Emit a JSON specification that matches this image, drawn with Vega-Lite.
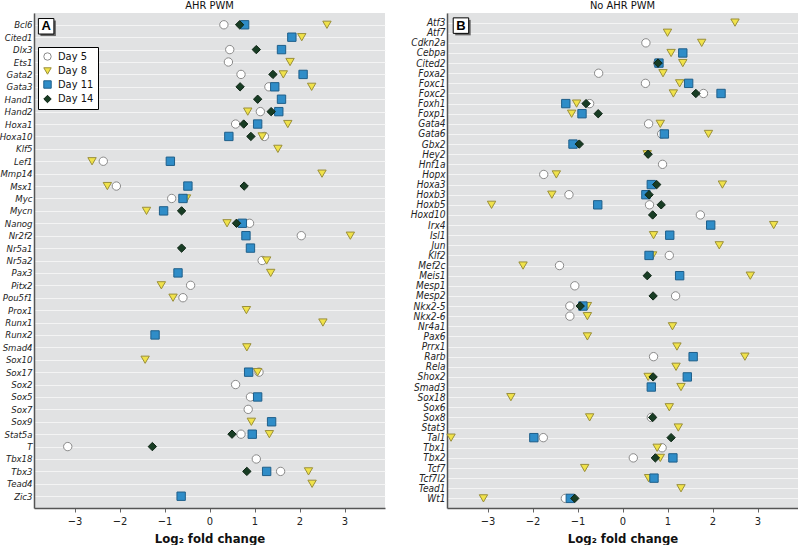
{
  "$schema": "https://vega.github.io/schema/vega-lite/v6.json",
  "padding": {"left": -1, "top": 0, "right": 0, "bottom": 0},
  "background": "#ffffff",
  "spacing": 25,
  "datasets": {
    "a": [
      {"g":"Bcl6","d":"Day 5","v":0.32},{"g":"Bcl6","d":"Day 8","v":2.61},{"g":"Bcl6","d":"Day 11","v":0.78},{"g":"Bcl6","d":"Day 14","v":0.67},
      {"g":"Cited1","d":"Day 8","v":2.05},{"g":"Cited1","d":"Day 11","v":1.83},
      {"g":"Dlx3","d":"Day 5","v":0.45},{"g":"Dlx3","d":"Day 11","v":1.60},{"g":"Dlx3","d":"Day 14","v":1.04},
      {"g":"Ets1","d":"Day 5","v":0.42},{"g":"Ets1","d":"Day 8","v":1.79},
      {"g":"Gata2","d":"Day 5","v":0.70},{"g":"Gata2","d":"Day 8","v":1.64},{"g":"Gata2","d":"Day 11","v":2.08},{"g":"Gata2","d":"Day 14","v":1.41},
      {"g":"Gata3","d":"Day 5","v":1.32},{"g":"Gata3","d":"Day 8","v":2.27},{"g":"Gata3","d":"Day 11","v":1.45},{"g":"Gata3","d":"Day 14","v":0.68},
      {"g":"Hand1","d":"Day 11","v":1.60},{"g":"Hand1","d":"Day 14","v":1.07},
      {"g":"Hand2","d":"Day 5","v":1.13},{"g":"Hand2","d":"Day 8","v":0.85},{"g":"Hand2","d":"Day 11","v":1.54},{"g":"Hand2","d":"Day 14","v":1.37},
      {"g":"Hoxa1","d":"Day 5","v":0.58},{"g":"Hoxa1","d":"Day 8","v":1.74},{"g":"Hoxa1","d":"Day 11","v":1.07},{"g":"Hoxa1","d":"Day 14","v":0.76},
      {"g":"Hoxa10","d":"Day 5","v":1.22},{"g":"Hoxa10","d":"Day 8","v":1.17},{"g":"Hoxa10","d":"Day 11","v":0.43},{"g":"Hoxa10","d":"Day 14","v":0.92},
      {"g":"Klf5","d":"Day 8","v":1.52},
      {"g":"Lef1","d":"Day 5","v":-2.36},{"g":"Lef1","d":"Day 8","v":-2.61},{"g":"Lef1","d":"Day 11","v":-0.87},
      {"g":"Mmp14","d":"Day 8","v":2.50},
      {"g":"Msx1","d":"Day 5","v":-2.07},{"g":"Msx1","d":"Day 8","v":-2.27},{"g":"Msx1","d":"Day 11","v":-0.48},{"g":"Msx1","d":"Day 14","v":0.77},
      {"g":"Myc","d":"Day 5","v":-0.84},{"g":"Myc","d":"Day 8","v":-0.51},{"g":"Myc","d":"Day 11","v":-0.59},
      {"g":"Mycn","d":"Day 8","v":-1.40},{"g":"Mycn","d":"Day 11","v":-1.02},{"g":"Mycn","d":"Day 14","v":-0.62},
      {"g":"Nanog","d":"Day 5","v":0.89},{"g":"Nanog","d":"Day 8","v":0.39},{"g":"Nanog","d":"Day 11","v":0.73},{"g":"Nanog","d":"Day 14","v":0.60},
      {"g":"Nr2f2","d":"Day 5","v":2.04},{"g":"Nr2f2","d":"Day 8","v":3.13},{"g":"Nr2f2","d":"Day 11","v":0.81},
      {"g":"Nr5a1","d":"Day 11","v":0.91},{"g":"Nr5a1","d":"Day 14","v":-0.62},
      {"g":"Nr5a2","d":"Day 5","v":1.17},{"g":"Nr5a2","d":"Day 8","v":1.27},
      {"g":"Pax3","d":"Day 8","v":1.36},{"g":"Pax3","d":"Day 11","v":-0.70},
      {"g":"Pitx2","d":"Day 5","v":-0.42},{"g":"Pitx2","d":"Day 8","v":-1.07},
      {"g":"Pou5f1","d":"Day 5","v":-0.59},{"g":"Pou5f1","d":"Day 8","v":-0.81},
      {"g":"Prox1","d":"Day 8","v":0.82},
      {"g":"Runx1","d":"Day 8","v":2.52},
      {"g":"Runx2","d":"Day 11","v":-1.21},
      {"g":"Smad4","d":"Day 8","v":0.83},
      {"g":"Sox10","d":"Day 8","v":-1.43},
      {"g":"Sox17","d":"Day 5","v":1.10},{"g":"Sox17","d":"Day 8","v":1.07},{"g":"Sox17","d":"Day 11","v":0.87},
      {"g":"Sox2","d":"Day 5","v":0.58},
      {"g":"Sox5","d":"Day 5","v":0.91},{"g":"Sox5","d":"Day 11","v":1.07},
      {"g":"Sox7","d":"Day 5","v":0.86},
      {"g":"Sox9","d":"Day 8","v":0.93},{"g":"Sox9","d":"Day 11","v":1.38},
      {"g":"Stat5a","d":"Day 5","v":0.70},{"g":"Stat5a","d":"Day 8","v":1.33},{"g":"Stat5a","d":"Day 11","v":0.95},{"g":"Stat5a","d":"Day 14","v":0.50},
      {"g":"T","d":"Day 5","v":-3.15},{"g":"T","d":"Day 14","v":-1.27},
      {"g":"Tbx18","d":"Day 5","v":1.04},
      {"g":"Tbx3","d":"Day 5","v":1.58},{"g":"Tbx3","d":"Day 8","v":2.20},{"g":"Tbx3","d":"Day 11","v":1.27},{"g":"Tbx3","d":"Day 14","v":0.83},
      {"g":"Tead4","d":"Day 8","v":2.28},
      {"g":"Zic3","d":"Day 11","v":-0.63}
    ],
    "b": [
      {"g":"Atf3","d":"Day 8","v":2.50},
      {"g":"Atf7","d":"Day 8","v":1.00},
      {"g":"Cdkn2a","d":"Day 5","v":0.52},{"g":"Cdkn2a","d":"Day 8","v":1.76},
      {"g":"Cebpa","d":"Day 8","v":1.08},{"g":"Cebpa","d":"Day 11","v":1.34},
      {"g":"Cited2","d":"Day 5","v":0.78},{"g":"Cited2","d":"Day 8","v":1.34},{"g":"Cited2","d":"Day 11","v":0.81},{"g":"Cited2","d":"Day 14","v":0.79},
      {"g":"Foxa2","d":"Day 5","v":-0.53},{"g":"Foxa2","d":"Day 8","v":0.90},
      {"g":"Foxc1","d":"Day 5","v":0.51},{"g":"Foxc1","d":"Day 8","v":1.27},{"g":"Foxc1","d":"Day 11","v":1.47},
      {"g":"Foxc2","d":"Day 5","v":1.80},{"g":"Foxc2","d":"Day 8","v":1.13},{"g":"Foxc2","d":"Day 11","v":2.19},{"g":"Foxc2","d":"Day 14","v":1.63},
      {"g":"Foxh1","d":"Day 5","v":-0.73},{"g":"Foxh1","d":"Day 8","v":-1.02},{"g":"Foxh1","d":"Day 11","v":-1.26},{"g":"Foxh1","d":"Day 14","v":-0.81},
      {"g":"Foxp1","d":"Day 8","v":-1.13},{"g":"Foxp1","d":"Day 11","v":-0.90},{"g":"Foxp1","d":"Day 14","v":-0.54},
      {"g":"Gata4","d":"Day 5","v":0.58},{"g":"Gata4","d":"Day 8","v":0.84},
      {"g":"Gata6","d":"Day 5","v":0.87},{"g":"Gata6","d":"Day 8","v":1.91},{"g":"Gata6","d":"Day 11","v":0.93},
      {"g":"Gbx2","d":"Day 11","v":-1.10},{"g":"Gbx2","d":"Day 14","v":-0.96},
      {"g":"Hey2","d":"Day 8","v":0.55},{"g":"Hey2","d":"Day 14","v":0.57},
      {"g":"Hnf1a","d":"Day 5","v":0.89},
      {"g":"Hopx","d":"Day 5","v":-1.75},{"g":"Hopx","d":"Day 8","v":-1.47},
      {"g":"Hoxa3","d":"Day 8","v":2.22},{"g":"Hoxa3","d":"Day 11","v":0.64},{"g":"Hoxa3","d":"Day 14","v":0.76},
      {"g":"Hoxb3","d":"Day 5","v":-1.19},{"g":"Hoxb3","d":"Day 8","v":-1.57},{"g":"Hoxb3","d":"Day 11","v":0.52},{"g":"Hoxb3","d":"Day 14","v":0.59},
      {"g":"Hoxb5","d":"Day 5","v":0.60},{"g":"Hoxb5","d":"Day 8","v":-2.91},{"g":"Hoxb5","d":"Day 11","v":-0.55},{"g":"Hoxb5","d":"Day 14","v":0.86},
      {"g":"Hoxd10","d":"Day 5","v":1.73},{"g":"Hoxd10","d":"Day 14","v":0.67},
      {"g":"Irx4","d":"Day 8","v":3.36},{"g":"Irx4","d":"Day 11","v":1.96},
      {"g":"Isl1","d":"Day 8","v":0.69},{"g":"Isl1","d":"Day 11","v":1.05},
      {"g":"Jun","d":"Day 8","v":2.15},
      {"g":"Klf2","d":"Day 5","v":1.04},{"g":"Klf2","d":"Day 8","v":0.67},{"g":"Klf2","d":"Day 11","v":0.59},
      {"g":"Mef2c","d":"Day 5","v":-1.40},{"g":"Mef2c","d":"Day 8","v":-2.21},
      {"g":"Meis1","d":"Day 8","v":2.84},{"g":"Meis1","d":"Day 11","v":1.27},{"g":"Meis1","d":"Day 14","v":0.55},
      {"g":"Mesp1","d":"Day 5","v":-1.06},
      {"g":"Mesp2","d":"Day 5","v":1.18},{"g":"Mesp2","d":"Day 14","v":0.68},
      {"g":"Nkx2-5","d":"Day 5","v":-1.17},{"g":"Nkx2-5","d":"Day 8","v":-0.78},{"g":"Nkx2-5","d":"Day 11","v":-0.88},{"g":"Nkx2-5","d":"Day 14","v":-0.94},
      {"g":"Nkx2-6","d":"Day 5","v":-1.17},{"g":"Nkx2-6","d":"Day 8","v":-0.78},
      {"g":"Nr4a1","d":"Day 8","v":1.11},
      {"g":"Pax6","d":"Day 8","v":-0.78},
      {"g":"Prrx1","d":"Day 8","v":1.21},
      {"g":"Rarb","d":"Day 5","v":0.69},{"g":"Rarb","d":"Day 8","v":2.72},{"g":"Rarb","d":"Day 11","v":1.57},
      {"g":"Rela","d":"Day 8","v":1.19},
      {"g":"Shox2","d":"Day 8","v":0.57},{"g":"Shox2","d":"Day 11","v":1.44},{"g":"Shox2","d":"Day 14","v":0.68},
      {"g":"Smad3","d":"Day 8","v":1.30},{"g":"Smad3","d":"Day 11","v":0.64},
      {"g":"Sox18","d":"Day 8","v":-2.48},
      {"g":"Sox6","d":"Day 8","v":1.04},
      {"g":"Sox8","d":"Day 5","v":0.64},{"g":"Sox8","d":"Day 8","v":-0.73},{"g":"Sox8","d":"Day 14","v":0.67},
      {"g":"Stat3","d":"Day 8","v":1.24},
      {"g":"Tal1","d":"Day 5","v":-1.76},{"g":"Tal1","d":"Day 8","v":-3.81},{"g":"Tal1","d":"Day 11","v":-1.97},{"g":"Tal1","d":"Day 14","v":1.08},
      {"g":"Tbx1","d":"Day 5","v":0.88},{"g":"Tbx1","d":"Day 8","v":0.77},
      {"g":"Tbx2","d":"Day 5","v":0.24},{"g":"Tbx2","d":"Day 8","v":0.84},{"g":"Tbx2","d":"Day 11","v":1.12},{"g":"Tbx2","d":"Day 14","v":0.73},
      {"g":"Tcf7","d":"Day 8","v":-0.84},
      {"g":"Tcf7l2","d":"Day 8","v":0.58},{"g":"Tcf7l2","d":"Day 11","v":0.70},
      {"g":"Tead1","d":"Day 8","v":1.30},
      {"g":"Wt1","d":"Day 5","v":-1.27},{"g":"Wt1","d":"Day 8","v":-3.09},{"g":"Wt1","d":"Day 11","v":-1.16},{"g":"Wt1","d":"Day 14","v":-1.06}
    ]
  },
  "config": {
    "font": "DejaVu Sans Condensed, Liberation Sans, sans-serif",
    "view": {"fill": "#e1e2e3", "stroke": null},
    "axis": {"labelFont": "DejaVu Sans Condensed, Liberation Sans, sans-serif", "labelColor": "#222", "domainColor": "#555", "domainWidth": 1.5, "gridColor": "#f4f4f4", "gridWidth": 1, "tickColor": "#666"},
    "axisX": {"labelFontSize": 11, "tickSize": 4, "labelPadding": 3, "titleFont": "DejaVu Sans Condensed, Liberation Sans, sans-serif", "titleFontSize": 13, "titleFontWeight": "bold", "titleColor": "#111", "titlePadding": 6},
    "axisY": {"labelFontSize": 9.5, "labelFontStyle": "italic", "ticks": false, "labelPadding": 2},
    "title": {"font": "DejaVu Sans Condensed, Liberation Sans, sans-serif", "fontSize": 11, "fontWeight": "normal", "offset": 2, "color": "#111"},
    "legend": {"orient": "none", "legendX": 4, "legendY": 34, "title": null, "strokeColor": "#000", "fillColor": "#ffffff", "padding": 4, "labelFont": "DejaVu Sans Condensed, Liberation Sans, sans-serif", "labelFontSize": 11, "labelColor": "#111", "symbolSize": 55, "rowPadding": 1.5, "labelOffset": 5, "symbolStrokeWidth": 1}
  },
  "resolve": {"legend": {"fill": "independent", "stroke": "independent", "shape": "independent"}},
  "hconcat": [
    {
      "width": 351,
      "height": 495,
      "title": "AHR PWM",
      "layer": [
        {
          "mark": {"type": "rule", "color": "#777", "strokeWidth": 1},
          "encoding": {"x": {"datum": 0, "type": "quantitative"}}
        },
        {
          "data": {"name": "a"},
          "mark": {"type": "point", "filled": true, "opacity": 1, "size": 70, "strokeWidth": 1},
          "encoding": {
            "x": {"field": "v", "type": "quantitative", "scale": {"domain": [-3.9, 3.9], "nice": false, "zero": false}, "axis": {"values": [-3, -2, -1, 0, 1, 2, 3], "title": "Log₂ fold change"}},
            "y": {"field": "g", "type": "nominal", "sort": ["Bcl6","Cited1","Dlx3","Ets1","Gata2","Gata3","Hand1","Hand2","Hoxa1","Hoxa10","Klf5","Lef1","Mmp14","Msx1","Myc","Mycn","Nanog","Nr2f2","Nr5a1","Nr5a2","Pax3","Pitx2","Pou5f1","Prox1","Runx1","Runx2","Smad4","Sox10","Sox17","Sox2","Sox5","Sox7","Sox9","Stat5a","T","Tbx18","Tbx3","Tead4","Zic3"], "scale": {"type": "point", "padding": 0.95}, "axis": {"title": null, "grid": true}},
            "shape": {"field": "d", "type": "nominal", "scale": {"domain": ["Day 5","Day 8","Day 11","Day 14"], "range": ["circle","triangle-down","square","diamond"]}},
            "fill": {"field": "d", "type": "nominal", "scale": {"domain": ["Day 5","Day 8","Day 11","Day 14"], "range": ["#ffffff","#f0e24a","#2f8dc8","#183d24"]}},
            "stroke": {"field": "d", "type": "nominal", "scale": {"domain": ["Day 5","Day 8","Day 11","Day 14"], "range": ["#8a8a8a","#9a8f3a","#1f5f8a","#0d2414"]}}
          }
        },
        {
          "data": {"values": [{"lab": "A", "v": -3.63, "g": "Bcl6"}]},
          "layer": [
            {"mark": {"type": "point", "shape": "square", "filled": true, "size": 240, "color": "#666", "opacity": 1, "xOffset": 2, "yOffset": 3.5}, "encoding": {"x": {"field": "v", "type": "quantitative"}, "y": {"field": "g", "type": "nominal"}}},
            {"mark": {"type": "point", "shape": "square", "filled": true, "size": 240, "fill": "#ffffff", "stroke": "#000", "strokeWidth": 1, "opacity": 1, "yOffset": 1.5}, "encoding": {"x": {"field": "v", "type": "quantitative"}, "y": {"field": "g", "type": "nominal"}}},
            {"mark": {"type": "text", "font": "Liberation Sans", "fontWeight": "bold", "fontSize": 13, "color": "#000", "baseline": "middle", "yOffset": 1.5}, "encoding": {"x": {"field": "v", "type": "quantitative"}, "y": {"field": "g", "type": "nominal"}, "text": {"field": "lab"}}}
          ]
        }
      ]
    },
    {
      "width": 351,
      "height": 495,
      "title": "No AHR PWM",
      "layer": [
        {
          "mark": {"type": "rule", "color": "#777", "strokeWidth": 1},
          "encoding": {"x": {"datum": 0, "type": "quantitative"}}
        },
        {
          "data": {"name": "b"},
          "mark": {"type": "point", "filled": true, "opacity": 1, "size": 70, "strokeWidth": 1},
          "encoding": {
            "x": {"field": "v", "type": "quantitative", "scale": {"domain": [-3.9, 3.9], "nice": false, "zero": false}, "axis": {"values": [-3, -2, -1, 0, 1, 2, 3], "title": "Log₂ fold change"}},
            "y": {"field": "g", "type": "nominal", "sort": ["Atf3","Atf7","Cdkn2a","Cebpa","Cited2","Foxa2","Foxc1","Foxc2","Foxh1","Foxp1","Gata4","Gata6","Gbx2","Hey2","Hnf1a","Hopx","Hoxa3","Hoxb3","Hoxb5","Hoxd10","Irx4","Isl1","Jun","Klf2","Mef2c","Meis1","Mesp1","Mesp2","Nkx2-5","Nkx2-6","Nr4a1","Pax6","Prrx1","Rarb","Rela","Shox2","Smad3","Sox18","Sox6","Sox8","Stat3","Tal1","Tbx1","Tbx2","Tcf7","Tcf7l2","Tead1","Wt1"], "scale": {"type": "point", "padding": 0.95}, "axis": {"title": null, "grid": true, "labelFontSize": 10}},
            "shape": {"field": "d", "type": "nominal", "scale": {"domain": ["Day 5","Day 8","Day 11","Day 14"], "range": ["circle","triangle-down","square","diamond"]}, "legend": null},
            "fill": {"field": "d", "type": "nominal", "scale": {"domain": ["Day 5","Day 8","Day 11","Day 14"], "range": ["#ffffff","#f0e24a","#2f8dc8","#183d24"]}, "legend": null},
            "stroke": {"field": "d", "type": "nominal", "scale": {"domain": ["Day 5","Day 8","Day 11","Day 14"], "range": ["#8a8a8a","#9a8f3a","#1f5f8a","#0d2414"]}, "legend": null}
          }
        },
        {
          "data": {"values": [{"lab": "B", "v": -3.59, "g": "Atf3"}]},
          "layer": [
            {"mark": {"type": "point", "shape": "square", "filled": true, "size": 240, "color": "#666", "opacity": 1, "xOffset": 2, "yOffset": 5}, "encoding": {"x": {"field": "v", "type": "quantitative"}, "y": {"field": "g", "type": "nominal"}}},
            {"mark": {"type": "point", "shape": "square", "filled": true, "size": 240, "fill": "#ffffff", "stroke": "#000", "strokeWidth": 1, "opacity": 1, "yOffset": 3}, "encoding": {"x": {"field": "v", "type": "quantitative"}, "y": {"field": "g", "type": "nominal"}}},
            {"mark": {"type": "text", "font": "Liberation Sans", "fontWeight": "bold", "fontSize": 13, "color": "#000", "baseline": "middle", "yOffset": 3}, "encoding": {"x": {"field": "v", "type": "quantitative"}, "y": {"field": "g", "type": "nominal"}, "text": {"field": "lab"}}}
          ]
        }
      ]
    }
  ]
}
